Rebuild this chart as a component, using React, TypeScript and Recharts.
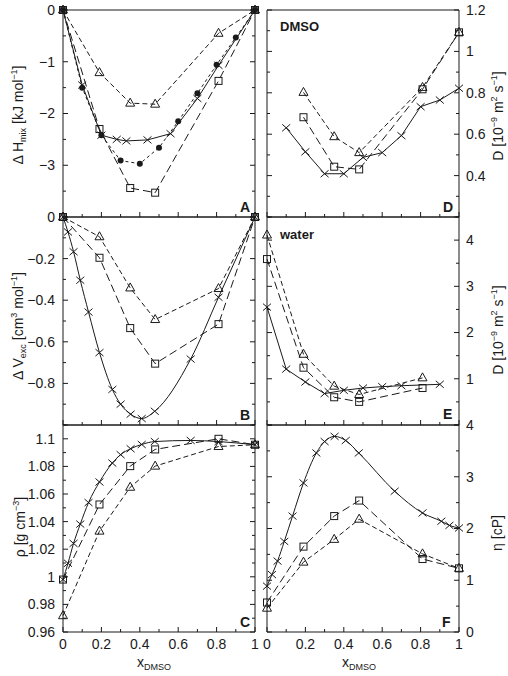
import type { ReactNode } from "react";
import { LineChart, Line, XAxis, YAxis } from "recharts";

const FONT = "'Liberation Sans', Arial, Helvetica, sans-serif";
const INK = "#1a1a1a";

// compositions of the simulated mixtures (triangles, squares)
const simX = [0, 0.19, 0.35, 0.48, 0.81, 1];
// compositions of the measured mixtures (crosses)
const expX = [0, 0.026, 0.055, 0.09, 0.133, 0.19, 0.257, 0.3, 0.352, 0.41, 0.478, 0.665, 0.81, 1];
const etaExpX = [0, 0.026, 0.055, 0.09, 0.133, 0.19, 0.257, 0.3, 0.352, 0.41, 0.478, 0.665, 0.81, 0.908, 0.95, 1];

// A: enthalpy of mixing
const hmixTri = [0, -1.21, -1.8, -1.82, -0.45, 0];
const hmixSq = [0, -2.3, -3.44, -3.53, -1.37, 0];
const hmixCrossX = [0, 0.1, 0.2, 0.28, 0.33, 0.44, 0.56, 0.7, 0.81, 1];
const hmixCross = [0, -1.45, -2.42, -2.5, -2.53, -2.51, -2.39, -1.71, -1.07, 0];
const hmixDotX = [0, 0.1, 0.2, 0.3, 0.4, 0.5, 0.6, 0.7, 0.8, 0.9, 1];
const hmixDot = [0, -1.5, -2.42, -2.91, -2.97, -2.66, -2.15, -1.61, -1.06, -0.53, 0];

// B: excess volume
const vexcTri = [0, -0.095, -0.341, -0.493, -0.344, 0];
const vexcSq = [0, -0.196, -0.534, -0.705, -0.515, 0];
const vexcCross = [0, -0.072, -0.167, -0.304, -0.457, -0.652, -0.829, -0.9, -0.948, -0.969, -0.934, -0.683, -0.386, 0];

// C: density
const rhoTri = [0.9718, 1.0331, 1.0649, 1.0802, 1.0944, 1.0957];
const rhoSq = [0.998, 1.0524, 1.0802, 1.0923, 1.1, 1.0957];
const rhoCross = [0.998, 1.0098, 1.0242, 1.0382, 1.0538, 1.0687, 1.0824, 1.0885, 1.0928, 1.0959, 1.098, 1.0988, 1.098, 1.0957];

// D: self-diffusion of DMSO
const dDmsoX = [0.19, 0.35, 0.48, 0.81, 1];
const dDmsoTri = [0.802, 0.588, 0.511, 0.826, 1.092];
const dDmsoSq = [0.682, 0.443, 0.43, 0.817, 1.092];
const dDmsoCrossX = [0.1, 0.2, 0.3, 0.4, 0.5, 0.6, 0.7, 0.8, 0.9, 1];
const dDmsoCross = [0.631, 0.515, 0.409, 0.409, 0.488, 0.511, 0.593, 0.733, 0.765, 0.822];

// E: self-diffusion of water
const dWaterX = [0, 0.19, 0.35, 0.48, 0.81];
const dWaterTri = [4.11, 1.53, 0.84, 0.66, 1.02];
const dWaterSq = [3.59, 1.24, 0.6, 0.5, 0.8];
const dWaterCrossX = [0, 0.1, 0.2, 0.3, 0.4, 0.5, 0.6, 0.7, 0.9];
const dWaterCross = [2.55, 1.21, 0.93, 0.68, 0.75, 0.8, 0.83, 0.85, 0.88];

// F: shear viscosity
const etaTri = [0.46, 1.35, 1.79, 2.18, 1.51, 1.23];
const etaSq = [0.57, 1.65, 2.24, 2.54, 1.41, 1.23];
const etaCross = [0.886, 1.11, 1.37, 1.75, 2.24, 2.88, 3.46, 3.68, 3.78, 3.7, 3.46, 2.72, 2.3, 2.14, 2.06, 2.01];

// axis ticks
const xTicks = [0, 0.1, 0.2, 0.3, 0.4, 0.5, 0.6, 0.7, 0.8, 0.9, 1];
const xMajor = [0, 0.2, 0.4, 0.6, 0.8, 1];
const hmixTicks = [-4, -3.5, -3, -2.5, -2, -1.5, -1, -0.5, 0];
const hmixMajor = [-4, -3, -2, -1, 0];
const hmixLabels = [-3, -2, -1, 0];
const vexcTicks = [-1, -0.9, -0.8, -0.7, -0.6, -0.5, -0.4, -0.3, -0.2, -0.1, 0];
const vexcMajor = [-1, -0.8, -0.6, -0.4, -0.2, 0];
const vexcLabels = [-0.8, -0.6, -0.4, -0.2, 0];
const rhoTicks = [0.96, 0.97, 0.98, 0.99, 1, 1.01, 1.02, 1.03, 1.04, 1.05, 1.06, 1.07, 1.08, 1.09, 1.1, 1.11];
const rhoLabels = [0.96, 0.98, 1, 1.02, 1.04, 1.06, 1.08, 1.1];
const dDmsoTicks = [0.2, 0.3, 0.4, 0.5, 0.6, 0.7, 0.8, 0.9, 1, 1.1, 1.2];
const dDmsoMajor = [0.2, 0.4, 0.6, 0.8, 1, 1.2];
const dDmsoLabels = [0.4, 0.6, 0.8, 1, 1.2];
const dWaterTicks = [0, 0.5, 1, 1.5, 2, 2.5, 3, 3.5, 4, 4.5];
const dWaterMajor = [0, 1, 2, 3, 4];
const dWaterLabels = [1, 2, 3, 4];
const etaTicks = [0, 0.5, 1, 1.5, 2, 2.5, 3, 3.5, 4];
const etaLabels = [0, 1, 2, 3, 4];

// plot frames
const PLOT_LEFT = [63, 267];
const PLOT_W = 192;
const ROW_TOP = [10, 217, 425];
const ROW_H = [207, 208, 207];
const PAD = { left: 60, right: 50, top: 8, bottom: 30 };

const LONG_DASH = "8 4";
const SHORT_DASH = "5 3";
const DOT_DASH = "3 3";

type Marker = "cross" | "square" | "triangle" | "dot";
type Side = "left" | "right" | "top" | "bottom";

interface Series {
  xs: number[];
  ys: number[];
  marker: Marker;
  dash?: string;
  curve?: "linear" | "monotone";
}

interface Panel {
  key: string;
  col: 0 | 1;
  row: 0 | 1 | 2;
  domain: [number, number];
  ticks: number[];
  major: number[];
  labels: number[];
  series: Series[];
}

const panels: Panel[] = [
  {
    key: "A", col: 0, row: 0, domain: [-4, 0],
    ticks: hmixTicks, major: hmixMajor, labels: hmixLabels,
    series: [
      { xs: simX, ys: hmixTri, marker: "triangle", dash: SHORT_DASH },
      { xs: simX, ys: hmixSq, marker: "square", dash: LONG_DASH },
      { xs: hmixDotX, ys: hmixDot, marker: "dot", dash: DOT_DASH },
      { xs: hmixCrossX, ys: hmixCross, marker: "cross" },
    ],
  },
  {
    key: "B", col: 0, row: 1, domain: [-1, 0],
    ticks: vexcTicks, major: vexcMajor, labels: vexcLabels,
    series: [
      { xs: simX, ys: vexcTri, marker: "triangle", dash: SHORT_DASH },
      { xs: simX, ys: vexcSq, marker: "square", dash: LONG_DASH },
      { xs: expX, ys: vexcCross, marker: "cross", curve: "monotone" },
    ],
  },
  {
    key: "C", col: 0, row: 2, domain: [0.96, 1.11],
    ticks: rhoTicks, major: rhoLabels, labels: rhoLabels,
    series: [
      { xs: simX, ys: rhoTri, marker: "triangle", dash: SHORT_DASH },
      { xs: simX, ys: rhoSq, marker: "square", dash: LONG_DASH },
      { xs: expX, ys: rhoCross, marker: "cross", curve: "monotone" },
    ],
  },
  {
    key: "D", col: 1, row: 0, domain: [0.2, 1.2],
    ticks: dDmsoTicks, major: dDmsoMajor, labels: dDmsoLabels,
    series: [
      { xs: dDmsoX, ys: dDmsoTri, marker: "triangle", dash: SHORT_DASH },
      { xs: dDmsoX, ys: dDmsoSq, marker: "square", dash: LONG_DASH },
      { xs: dDmsoCrossX, ys: dDmsoCross, marker: "cross" },
    ],
  },
  {
    key: "E", col: 1, row: 1, domain: [0, 4.5],
    ticks: dWaterTicks, major: dWaterMajor, labels: dWaterLabels,
    series: [
      { xs: dWaterX, ys: dWaterTri, marker: "triangle", dash: SHORT_DASH },
      { xs: dWaterX, ys: dWaterSq, marker: "square", dash: LONG_DASH },
      { xs: dWaterCrossX, ys: dWaterCross, marker: "cross" },
    ],
  },
  {
    key: "F", col: 1, row: 2, domain: [0, 4],
    ticks: etaTicks, major: etaLabels, labels: etaLabels,
    series: [
      { xs: simX, ys: etaTri, marker: "triangle", dash: SHORT_DASH },
      { xs: simX, ys: etaSq, marker: "square", dash: LONG_DASH },
      { xs: etaExpX, ys: etaCross, marker: "cross", curve: "monotone" },
    ],
  },
];

const pts = (xs: number[], ys: number[]) => xs.map((x, i) => ({ x, y: ys[i] }));
const near = (list: number[], v: number) => list.some((m) => Math.abs(m - v) < 1e-6);
const fmt = (v: number) => String(v).replace("-", "\u2212");

// inward tick marks on every frame edge, numbers outside on the labelled sides
function edgeTick(side: Side, major: number[], labels: number[]) {
  return (props: any) => {
    const { x, y, payload } = props;
    const v = payload.value as number;
    const len = near(major, v) ? 5 : 3;
    const text = near(labels, v) ? fmt(v) : null;
    const txt = { fontSize: 14, fontFamily: FONT, fill: INK };
    if (side === "bottom") {
      return (
        <g>
          <line x1={x} y1={y} x2={x} y2={y - len} stroke={INK} />
          {text && <text x={x} y={y + 12} dy="0.35em" textAnchor="middle" style={txt}>{text}</text>}
        </g>
      );
    }
    if (side === "top") {
      return <g><line x1={x} y1={y} x2={x} y2={y + len} stroke={INK} /></g>;
    }
    if (side === "left") {
      return (
        <g>
          <line x1={x} y1={y} x2={x + len} y2={y} stroke={INK} />
          {text && <text x={x - 8} y={y} dy="0.35em" textAnchor="end" style={txt}>{text}</text>}
        </g>
      );
    }
    return (
      <g>
        <line x1={x} y1={y} x2={x - len} y2={y} stroke={INK} />
        {text && <text x={x + 7} y={y} dy="0.35em" textAnchor="start" style={txt}>{text}</text>}
      </g>
    );
  };
}

function MarkerShape({ cx, cy, kind }: { cx?: number; cy?: number; kind: Marker }) {
  if (cx == null || cy == null) return <g />;
  if (kind === "cross") {
    return (
      <path
        d={`M${cx - 4},${cy - 3.5}L${cx + 4},${cy + 3.5}M${cx - 4},${cy + 3.5}L${cx + 4},${cy - 3.5}`}
        stroke={INK}
        fill="none"
      />
    );
  }
  if (kind === "square") {
    return <rect x={cx - 3.5} y={cy - 3.5} width={7} height={7} fill="none" stroke={INK} />;
  }
  if (kind === "triangle") {
    return <path d={`M${cx},${cy - 5}L${cx + 4.5},${cy + 3}L${cx - 4.5},${cy + 3}Z`} fill="none" stroke={INK} />;
  }
  return <circle cx={cx} cy={cy} r={3} fill={INK} />;
}

function PanelChart({ p }: { p: Panel }) {
  const left = PLOT_LEFT[p.col];
  const top = ROW_TOP[p.row];
  const h = ROW_H[p.row];
  const valueSide: Side = p.col === 0 ? "left" : "right";
  const otherSide: Side = p.col === 0 ? "right" : "left";
  const showX = p.row === 2;
  const frame = { stroke: INK };
  return (
    <div style={{ position: "absolute", left: left - PAD.left, top: top - PAD.top }}>
      <LineChart width={PLOT_W + PAD.left + PAD.right} height={h + PAD.top + PAD.bottom} margin={PAD}>
        <XAxis
          xAxisId="b" type="number" dataKey="x" domain={[0, 1]} ticks={xTicks} interval={0}
          orientation="bottom" mirror tickSize={0} tickMargin={0} tickLine={false} axisLine={frame}
          tick={edgeTick("bottom", xMajor, showX ? xMajor : [])}
        />
        <XAxis
          xAxisId="t" type="number" domain={[0, 1]} ticks={xTicks} interval={0} allowDataOverflow
          orientation="top" mirror tickSize={0} tickMargin={0} tickLine={false} axisLine={frame}
          tick={edgeTick("top", xMajor, [])}
        />
        <YAxis
          yAxisId="v" type="number" domain={p.domain} ticks={p.ticks} interval={0}
          orientation={valueSide} mirror tickSize={0} tickMargin={0} tickLine={false} axisLine={frame}
          tick={edgeTick(valueSide, p.major, p.labels)}
        />
        <YAxis
          yAxisId="o" type="number" domain={p.domain} ticks={p.ticks} interval={0} allowDataOverflow
          orientation={otherSide} mirror tickSize={0} tickMargin={0} tickLine={false} axisLine={frame}
          tick={edgeTick(otherSide, p.major, [])}
        />
        {p.series.map((s, i) => (
          <Line
            key={i}
            xAxisId="b"
            yAxisId="v"
            data={pts(s.xs, s.ys)}
            dataKey="y"
            type={s.curve ?? "linear"}
            stroke={INK}
            strokeWidth={1}
            strokeDasharray={s.dash}
            dot={(d: any) => <MarkerShape key={d.index} cx={d.cx} cy={d.cy} kind={s.marker} />}
            activeDot={false}
            isAnimationActive={false}
          />
        ))}
      </LineChart>
    </div>
  );
}

function Rotated({ cx, cy, children }: { cx: number; cy: number; children: ReactNode }) {
  return (
    <div
      style={{
        position: "absolute", left: cx, top: cy, whiteSpace: "nowrap", fontSize: 14, lineHeight: 1,
        transform: "translate(-50%, -50%) rotate(-90deg)",
      }}
    >
      {children}
    </div>
  );
}

function Tag({ x, y, children, size = 14 }: { x: number; y: number; children: ReactNode; size?: number }) {
  return (
    <div style={{ position: "absolute", left: x, top: y, fontWeight: "bold", fontSize: size, lineHeight: 1, transform: "translateY(-50%)" }}>
      {children}
    </div>
  );
}

const sub = { fontSize: 9, verticalAlign: "-3px" };
const sup = { fontSize: 9, verticalAlign: "6px" };

function DiffUnit() {
  return (
    <>D [10<span style={sup}>−9</span> m<span style={sup}>2</span> s<span style={sup}>−1</span>]</>
  );
}

export default function App() {
  return (
    <div style={{ position: "absolute", left: 0, top: 0, width: 508, height: 676, background: "#fff", fontFamily: FONT, color: INK }}>
      {panels.map((p) => <PanelChart key={p.key} p={p} />)}

      <Rotated cx={19} cy={115}>Δ H<span style={sub}>mix</span> [kJ mol<span style={sup}>−1</span>]</Rotated>
      <Rotated cx={19} cy={326}>Δ V<span style={sub}>exc</span> [cm<span style={sup}>3</span> mol<span style={sup}>−1</span>]</Rotated>
      <Rotated cx={19} cy={527}>ρ [g cm<span style={sup}>−3</span>]</Rotated>
      <Rotated cx={497} cy={116}><DiffUnit /></Rotated>
      <Rotated cx={497} cy={330}><DiffUnit /></Rotated>
      <Rotated cx={497} cy={533}>η [cP]</Rotated>

      <div style={{ position: "absolute", left: 137, top: 654, fontSize: 14 }}>x<span style={sub}>DMSO</span></div>
      <div style={{ position: "absolute", left: 342, top: 654, fontSize: 14 }}>x<span style={sub}>DMSO</span></div>

      <Tag x={240} y={207}>A</Tag>
      <Tag x={240} y={415}>B</Tag>
      <Tag x={240} y={622}>C</Tag>
      <Tag x={443} y={207}>D</Tag>
      <Tag x={443} y={414}>E</Tag>
      <Tag x={442} y={622}>F</Tag>
      <Tag x={280} y={26} size={13}>DMSO</Tag>
      <Tag x={280} y={234} size={13}>water</Tag>
    </div>
  );
}
